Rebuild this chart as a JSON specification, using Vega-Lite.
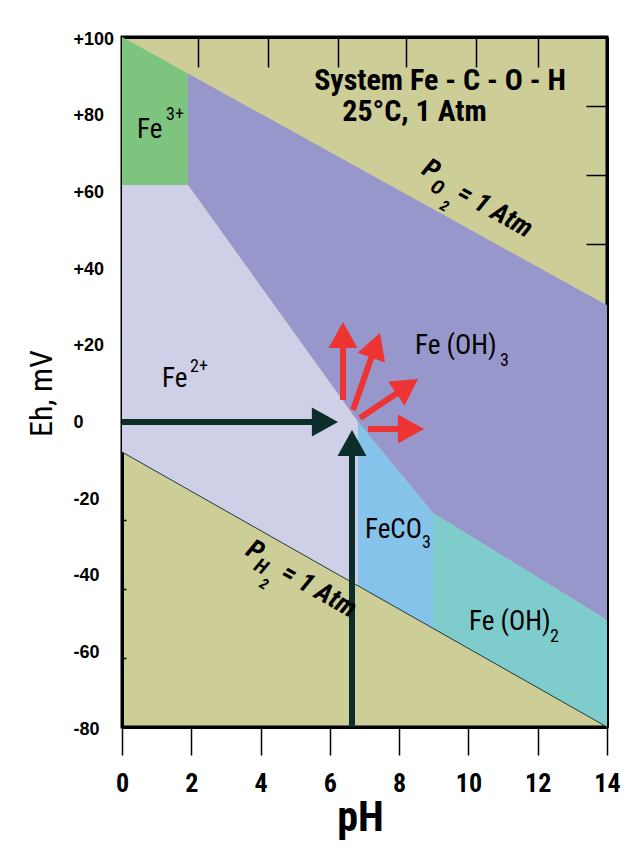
{
  "$schema": "https://vega.github.io/schema/vega-lite/v6.json",
  "width": 485,
  "height": 690,
  "autosize": {"type": "none"},
  "padding": {"left": 122, "top": 37, "right": 22, "bottom": 121},
  "background": "white",
  "config": {
    "view": {"fill": "#CDCD98", "stroke": "black", "strokeWidth": 3},
    "axis": {"grid": false, "zindex": 1, "domainColor": "black", "tickColor": "black", "labelOverlap": false, "labelFlush": false}
  },
  "datasets": {
    "regions": [
      {"region": "Fe3+", "pH": 0, "upper": 100, "lower": 61.39},
      {"region": "Fe3+", "pH": 1.905, "upper": 90.48, "lower": 61.39},
      {"region": "Fe(OH)3", "pH": 1.905, "upper": 90.48, "lower": 61.39},
      {"region": "Fe(OH)3", "pH": 6.81, "upper": 65.95, "lower": -0.35},
      {"region": "Fe(OH)3", "pH": 8.977, "upper": 55.12, "lower": -24.17},
      {"region": "Fe(OH)3", "pH": 14, "upper": 30, "lower": -52.09},
      {"region": "Fe2+", "pH": 0, "upper": 61.39, "lower": -8.26},
      {"region": "Fe2+", "pH": 1.905, "upper": 61.39, "lower": -18.02},
      {"region": "Fe2+", "pH": 6.81, "upper": -0.35, "lower": -43.15},
      {"region": "FeCO3", "pH": 6.81, "upper": -0.35, "lower": -43.15},
      {"region": "FeCO3", "pH": 8.977, "upper": -24.17, "lower": -54.26},
      {"region": "Fe(OH)2", "pH": 8.977, "upper": -24.17, "lower": -54.26},
      {"region": "Fe(OH)2", "pH": 14, "upper": -52.09, "lower": -80}
    ],
    "h2line": [
      {"pH": 0, "Eh": -8.26},
      {"pH": 14, "Eh": -80}
    ],
    "shafts": [
      {"arrow": "shift", "pH1": 6.379, "Eh1": 5.3, "pH2": 6.379, "Eh2": 22.26},
      {"arrow": "shift", "pH1": 6.668, "Eh1": 2.7, "pH2": 7.323, "Eh2": 19.57},
      {"arrow": "shift", "pH1": 6.87, "Eh1": 0.61, "pH2": 8.232, "Eh2": 8.88},
      {"arrow": "shift", "pH1": 7.101, "Eh1": -2.26, "pH2": 8.342, "Eh2": -2.26},
      {"arrow": "reference", "pH1": 0, "Eh1": -0.43, "pH2": 5.86, "Eh2": -0.43},
      {"arrow": "reference", "pH1": 6.639, "Eh1": -80, "pH2": 6.639, "Eh2": -5.91}
    ],
    "heads": [
      {"arrow": "shift", "pH": 6.379, "Eh": 25.65, "dir": 0},
      {"arrow": "shift", "pH": 7.447, "Eh": 22.78, "dir": 19.3},
      {"arrow": "shift", "pH": 8.544, "Eh": 10.78, "dir": 56},
      {"arrow": "shift", "pH": 8.718, "Eh": -2.26, "dir": 90},
      {"arrow": "reference", "pH": 6.235, "Eh": -0.43, "dir": 90},
      {"arrow": "reference", "pH": 6.639, "Eh": -2.52, "dir": 0}
    ],
    "regionLabels": [
      {"text": "Fe", "pH": 0.433, "Eh": 73.65},
      {"text": "Fe", "pH": 1.155, "Eh": 8.7},
      {"text": "Fe (OH)", "pH": 8.458, "Eh": 17.4},
      {"text": "FeCO", "pH": 7.014, "Eh": -30.7},
      {"text": "Fe (OH)", "pH": 10.017, "Eh": -54.7}
    ],
    "superscripts": [
      {"text": "3+", "pH": 1.27, "Eh": 78.35},
      {"text": "2+", "pH": 1.963, "Eh": 12.61}
    ],
    "subscripts": [
      {"text": "3", "pH": 10.91, "Eh": 14.17},
      {"text": "3", "pH": 8.66, "Eh": -33.3},
      {"text": "2", "pH": 12.354, "Eh": -57.83}
    ],
    "heading": [
      {"text": "System Fe - C - O - H", "pH": 9.18, "Eh": 86.3},
      {"text": "25°C, 1 Atm", "pH": 8.443, "Eh": 78.2}
    ],
    "gasMain": [
      {"text": "P", "pH": 8.918, "Eh": 65.3},
      {"text": "= 1 Atm", "pH": 10.76, "Eh": 54.6},
      {"text": "P", "pH": 3.839, "Eh": -34.09},
      {"text": "= 1 Atm", "pH": 5.68, "Eh": -44.5}
    ],
    "gasSub": [
      {"text": "O", "pH": 9.093, "Eh": 60.61},
      {"text": "H", "pH": 4.012, "Eh": -38.26}
    ],
    "gasSub2": [
      {"text": "2", "pH": 9.309, "Eh": 55.91},
      {"text": "2", "pH": 4.099, "Eh": -42.7}
    ]
  },
  "resolve": {
    "axis": {"x": "independent", "y": "independent"},
    "scale": {"color": "independent"}
  },
  "layer": [
    {
      "data": {"name": "regions"},
      "mark": {"type": "area", "interpolate": "linear", "opacity": 1},
      "encoding": {
        "x": {
          "field": "pH", "type": "quantitative",
          "scale": {"domain": [0, 14], "nice": false, "zero": false},
          "axis": {
            "orient": "bottom", "values": [0, 2, 4, 6, 8, 10, 12, 14], "format": "d",
            "tickSize": 28, "tickWidth": 1.5, "labelPadding": 15,
            "labelFont": "Roboto Condensed", "labelFontWeight": "bold", "labelFontSize": 26, "labelColor": "black",
            "domain": true, "domainWidth": 3,
            "title": "pH", "titleFont": "Roboto Condensed", "titleFontSize": 42, "titleFontWeight": "bold", "titleColor": "black", "titlePadding": 1, "titleX": 238
          }
        },
        "y": {
          "field": "upper", "type": "quantitative",
          "scale": {"domain": [-80, 100], "nice": false, "zero": false},
          "axis": {
            "orient": "left", "values": [-80, -60, -40, -20, 0, 20, 40, 60, 80, 100],
            "labelExpr": "datum.value > 0 ? '+' + datum.value : '' + datum.value",
            "tickSize": 0, "labelAlign": "left", "labelPadding": 49, "labelOffset": 2,
            "labelFont": "Liberation Sans", "labelFontWeight": "bold", "labelFontSize": 18, "labelColor": "black",
            "domain": true, "domainWidth": 3,
            "title": "Eh, mV", "titleFont": "Roboto Condensed", "titleFontSize": 32, "titleFontWeight": "normal", "titleColor": "black", "titlePadding": 15, "titleY": 356
          }
        },
        "y2": {"field": "lower"},
        "color": {
          "field": "region", "type": "nominal",
          "scale": {"domain": ["Fe3+", "Fe(OH)3", "Fe2+", "FeCO3", "Fe(OH)2"], "range": ["#7DC47F", "#9797CB", "#D0CFE8", "#86C3EA", "#7ECCCB"]},
          "legend": null
        }
      }
    },
    {
      "data": {"name": "h2line"},
      "mark": {"type": "line", "color": "#1E3A38", "strokeWidth": 1},
      "encoding": {
        "x": {
          "field": "pH", "type": "quantitative",
          "scale": {"domain": [0, 14], "nice": false, "zero": false},
          "axis": {"orient": "top", "values": [2.19, 4.21, 6.24, 8.2, 10.22, 12.01], "labels": false, "tickSize": -30, "tickWidth": 1.5, "domain": true, "domainWidth": 3, "title": null}
        },
        "y": {
          "field": "Eh", "type": "quantitative",
          "scale": {"domain": [-80, 100], "nice": false, "zero": false},
          "axis": {"orient": "right", "values": [82, 64, 46, 28, 10, -8, -26, -44, -62], "labels": false, "tickSize": -21, "tickWidth": 1.5, "domain": true, "domainWidth": 3, "title": null}
        }
      }
    },
    {
      "data": {"name": "shafts"},
      "mark": {"type": "rule", "strokeWidth": 6, "strokeCap": "butt"},
      "encoding": {
        "x": {"field": "pH1", "type": "quantitative", "scale": {"domain": [0, 14], "nice": false, "zero": false}, "axis": null},
        "x2": {"field": "pH2"},
        "y": {
          "field": "Eh1", "type": "quantitative",
          "scale": {"domain": [-80, 100], "nice": false, "zero": false},
          "axis": {"orient": "left", "values": [82, 64, 46, 28, 10, -8, -26, -44, -62], "labels": false, "tickSize": -4, "tickWidth": 1.5, "domain": false, "title": null}
        },
        "y2": {"field": "Eh2"},
        "color": {"field": "arrow", "type": "nominal", "scale": {"domain": ["shift", "reference"], "range": ["#EE3333", "#0B2E2B"]}, "legend": null}
      }
    },
    {
      "data": {"name": "heads"},
      "mark": {"type": "point", "shape": "M0,0L1,1.8L-1,1.8Z", "filled": true, "size": 841, "opacity": 1, "strokeWidth": 0},
      "encoding": {
        "x": {"field": "pH", "type": "quantitative", "scale": {"domain": [0, 14], "nice": false, "zero": false}, "axis": null},
        "y": {"field": "Eh", "type": "quantitative", "scale": {"domain": [-80, 100], "nice": false, "zero": false}, "axis": null},
        "angle": {"field": "dir", "type": "quantitative", "scale": null},
        "color": {"field": "arrow", "type": "nominal", "scale": {"domain": ["shift", "reference"], "range": ["#EE3333", "#0B2E2B"]}, "legend": null}
      }
    },
    {
      "data": {"name": "regionLabels"},
      "mark": {"type": "text", "align": "left", "baseline": "alphabetic", "font": "Roboto Condensed", "fontSize": 27, "color": "black"},
      "encoding": {
        "x": {"field": "pH", "type": "quantitative", "scale": {"domain": [0, 14], "nice": false, "zero": false}, "axis": null},
        "y": {"field": "Eh", "type": "quantitative", "scale": {"domain": [-80, 100], "nice": false, "zero": false}, "axis": null},
        "text": {"field": "text"}
      }
    },
    {
      "data": {"name": "superscripts"},
      "mark": {"type": "text", "align": "left", "baseline": "alphabetic", "font": "Roboto Condensed", "fontSize": 18, "color": "black"},
      "encoding": {
        "x": {"field": "pH", "type": "quantitative", "scale": {"domain": [0, 14], "nice": false, "zero": false}, "axis": null},
        "y": {"field": "Eh", "type": "quantitative", "scale": {"domain": [-80, 100], "nice": false, "zero": false}, "axis": null},
        "text": {"field": "text"}
      }
    },
    {
      "data": {"name": "subscripts"},
      "mark": {"type": "text", "align": "left", "baseline": "alphabetic", "font": "Roboto Condensed", "fontSize": 18, "color": "black"},
      "encoding": {
        "x": {"field": "pH", "type": "quantitative", "scale": {"domain": [0, 14], "nice": false, "zero": false}, "axis": null},
        "y": {"field": "Eh", "type": "quantitative", "scale": {"domain": [-80, 100], "nice": false, "zero": false}, "axis": null},
        "text": {"field": "text"}
      }
    },
    {
      "data": {"name": "heading"},
      "mark": {"type": "text", "align": "center", "baseline": "alphabetic", "font": "Roboto Condensed", "fontWeight": "bold", "fontSize": 30, "color": "black"},
      "encoding": {
        "x": {"field": "pH", "type": "quantitative", "scale": {"domain": [0, 14], "nice": false, "zero": false}, "axis": null},
        "y": {"field": "Eh", "type": "quantitative", "scale": {"domain": [-80, 100], "nice": false, "zero": false}, "axis": null},
        "text": {"field": "text"}
      }
    },
    {
      "data": {"name": "gasMain"},
      "mark": {"type": "text", "align": "center", "baseline": "middle", "angle": 29.5, "font": "Roboto Condensed", "fontWeight": "bold", "fontStyle": "italic", "fontSize": 27, "color": "black"},
      "encoding": {
        "x": {"field": "pH", "type": "quantitative", "scale": {"domain": [0, 14], "nice": false, "zero": false}, "axis": null},
        "y": {"field": "Eh", "type": "quantitative", "scale": {"domain": [-80, 100], "nice": false, "zero": false}, "axis": null},
        "text": {"field": "text"}
      }
    },
    {
      "data": {"name": "gasSub"},
      "mark": {"type": "text", "align": "center", "baseline": "middle", "angle": 29.5, "font": "Roboto Condensed", "fontWeight": "bold", "fontStyle": "italic", "fontSize": 20, "color": "black"},
      "encoding": {
        "x": {"field": "pH", "type": "quantitative", "scale": {"domain": [0, 14], "nice": false, "zero": false}, "axis": null},
        "y": {"field": "Eh", "type": "quantitative", "scale": {"domain": [-80, 100], "nice": false, "zero": false}, "axis": null},
        "text": {"field": "text"}
      }
    },
    {
      "data": {"name": "gasSub2"},
      "mark": {"type": "text", "align": "center", "baseline": "middle", "angle": 29.5, "font": "Roboto Condensed", "fontWeight": "bold", "fontStyle": "italic", "fontSize": 15, "color": "black"},
      "encoding": {
        "x": {"field": "pH", "type": "quantitative", "scale": {"domain": [0, 14], "nice": false, "zero": false}, "axis": null},
        "y": {"field": "Eh", "type": "quantitative", "scale": {"domain": [-80, 100], "nice": false, "zero": false}, "axis": null},
        "text": {"field": "text"}
      }
    }
  ]
}
